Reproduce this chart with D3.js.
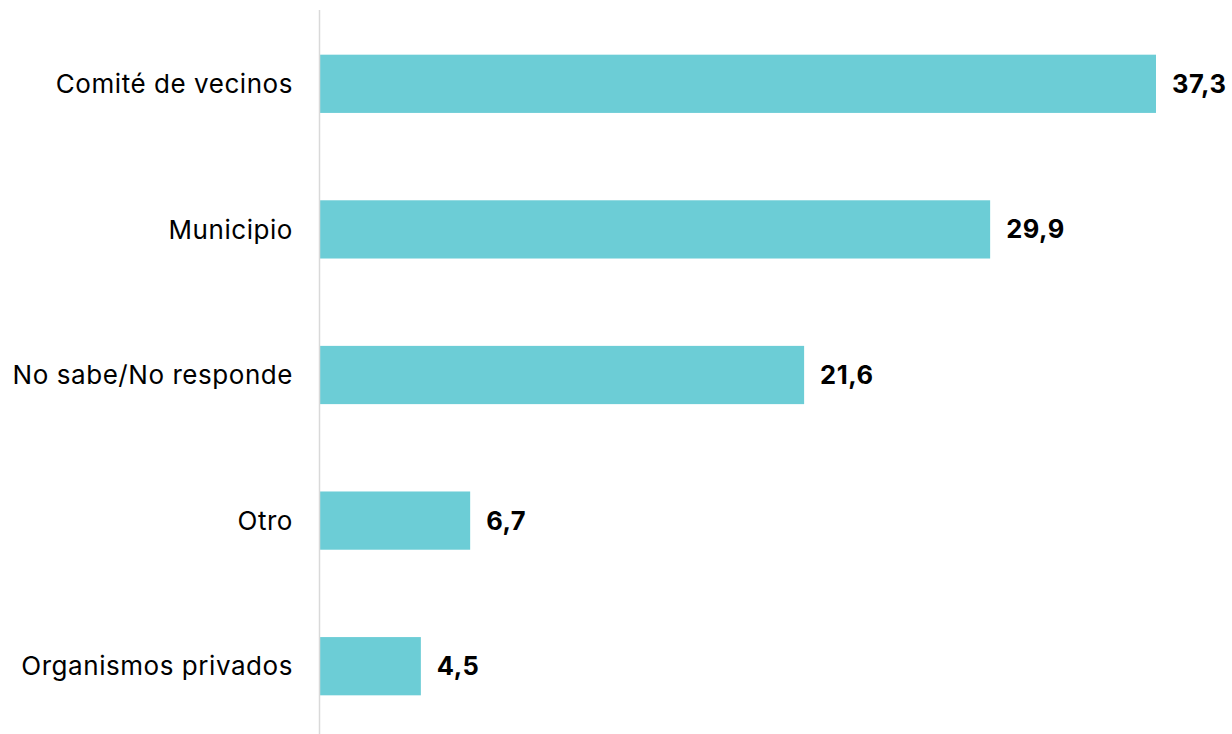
<!DOCTYPE html>
<html>
<head>
<meta charset="utf-8">
<script src="https://cdn.jsdelivr.net/npm/d3@7"></script>
<style>
  html, body { margin: 0; padding: 0; background: #fff; }
  svg { display: block; }
</style>
</head>
<body>
<svg id="chart" width="1232" height="734"></svg>
<script>
// Categories and percentages
const categories = ["Comité de vecinos", "Municipio", "No sabe/No responde", "Otro", "Organismos privados"];
const values = [37.3, 29.9, 21.6, 6.7, 4.5];

const svg = d3.select("#chart");
const font = "Inter, 'Open Sans', sans-serif";

const axisX = 319.5;
const x = d3.scaleLinear().domain([0, 37.3]).range([axisX + 0.5, 1156]);
const y = d3.scaleBand().domain(categories).range([11, 739]).paddingInner(0.6).paddingOuter(0.3);

const data = categories.map((c, i) => ({ cat: c, val: values[i] }));

// Bars
svg.selectAll("rect.bar").data(data).join("rect")
  .attr("class", "bar")
  .attr("x", x(0))
  .attr("y", d => y(d.cat))
  .attr("width", d => x(d.val) - x(0))
  .attr("height", y.bandwidth())
  .attr("fill", "#6CCDD6");

// Vertical category axis line
svg.append("line")
  .attr("x1", axisX).attr("x2", axisX)
  .attr("y1", 10).attr("y2", 734)
  .attr("stroke", "#d9d9d9").attr("stroke-width", 1.5);

// Category labels
svg.selectAll("text.cat").data(data).join("text")
  .attr("class", "cat")
  .attr("x", 293)
  .attr("y", d => y(d.cat) + y.bandwidth() / 2)
  .attr("dy", "0.35em")
  .attr("text-anchor", "end")
  .attr("font-family", font)
  .attr("font-size", 26)
  .attr("letter-spacing", 0.55)
  .attr("fill", "#000")
  .text(d => d.cat);

// Value labels
const fmt = v => v.toFixed(1).replace(".", ",");
svg.selectAll("text.val").data(data).join("text")
  .attr("class", "val")
  .attr("x", d => x(d.val) + 16)
  .attr("y", d => y(d.cat) + y.bandwidth() / 2)
  .attr("dy", "0.35em")
  .attr("font-family", font)
  .attr("font-size", 25.5)
  .attr("font-weight", 700)
  .attr("letter-spacing", 0.5)
  .attr("fill", "#000")
  .text(d => fmt(d.val));
</script>
</body>
</html>
